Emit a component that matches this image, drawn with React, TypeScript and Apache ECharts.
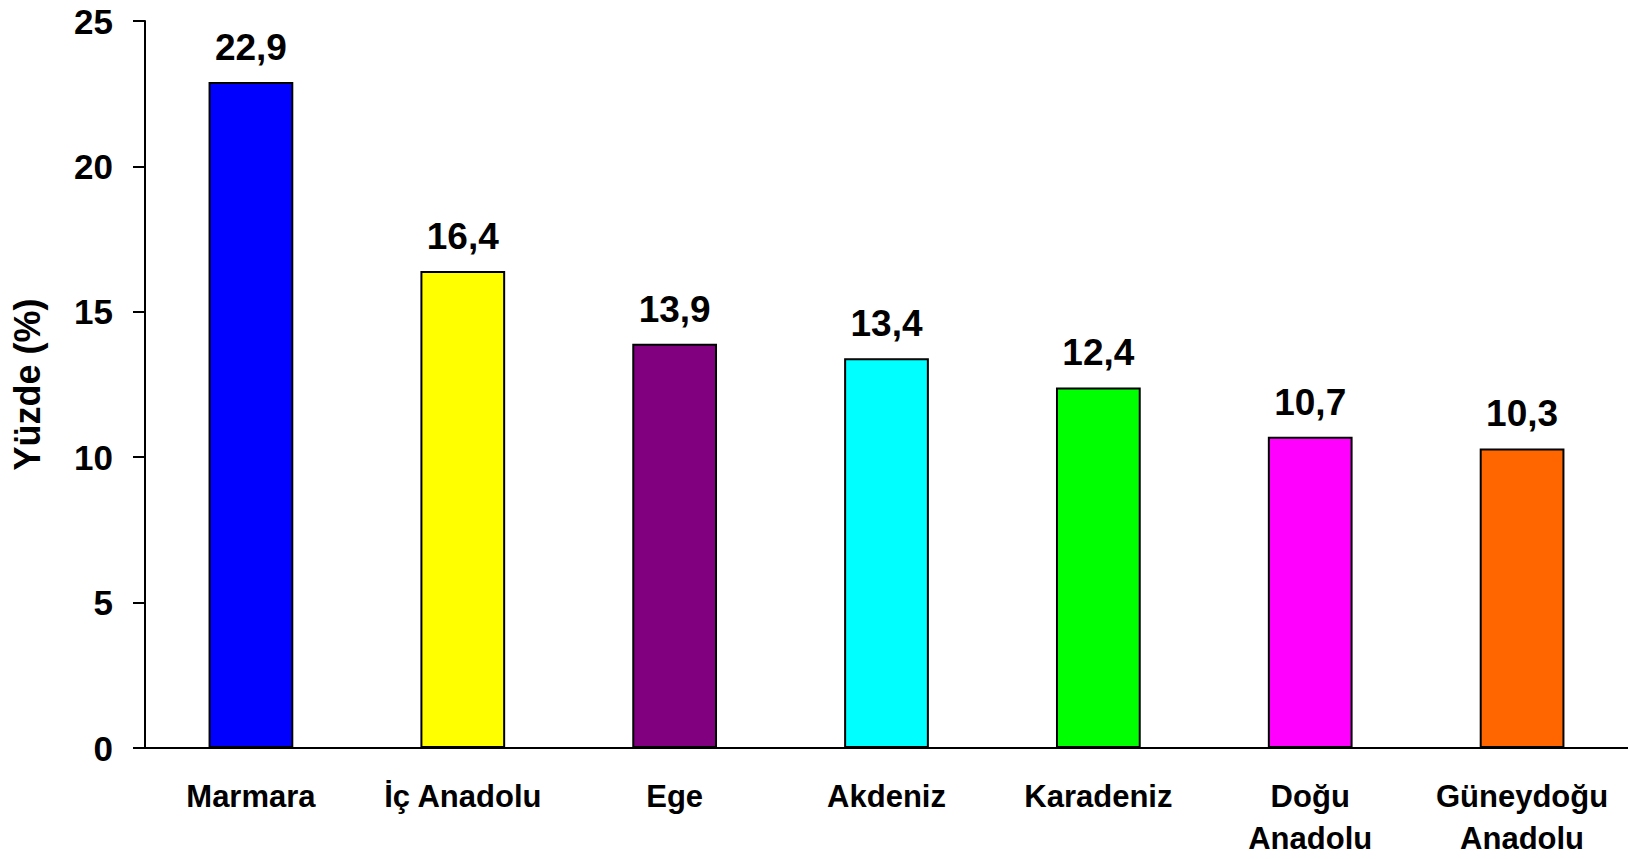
import React, { useEffect, useRef } from "react";
import * as echarts from "echarts";

const categories = ["Marmara", "İç Anadolu", "Ege", "Akdeniz", "Karadeniz", "Doğu\nAnadolu", "Güneydoğu\nAnadolu"];
const values = [22.9, 16.4, 13.9, 13.4, 12.4, 10.7, 10.3];
const colors = ["#0000FF", "#FFFF00", "#800080", "#00FFFF", "#00FF00", "#FF00FF", "#FF6600"];
const yTicks = { min: 0, max: 25, interval: 5 };
const yName = "Yüzde (%)";

const FONT = "'Liberation Sans', Arial, sans-serif";

export default function App() {
  const ref = useRef<HTMLDivElement>(null);
  useEffect(() => {
    if (!ref.current) return;
    const chart = echarts.init(ref.current, null, { renderer: "svg" });
    chart.setOption({
      animation: false,
      backgroundColor: "#ffffff",
      grid: { left: 145, right: 0, top: 21, bottom: 107, containLabel: false },
      xAxis: {
        type: "category",
        data: categories,
        axisLine: { show: true, lineStyle: { color: "#000", width: 2 } },
        axisTick: { show: false },
        axisLabel: {
          interval: 0,
          margin: 27,
          color: "#000",
          fontFamily: FONT,
          fontWeight: "bold",
          fontSize: 31,
          lineHeight: 42,
        },
      },
      yAxis: {
        type: "value",
        min: yTicks.min,
        max: yTicks.max,
        interval: yTicks.interval,
        name: yName,
        nameLocation: "middle",
        nameGap: 100,
        nameTextStyle: { color: "#000", fontFamily: FONT, fontWeight: "bold", fontSize: 36 },
        axisLine: { show: true, lineStyle: { color: "#000", width: 2 } },
        axisTick: { show: true, inside: false, length: 12, lineStyle: { color: "#000", width: 2 } },
        splitLine: { show: false },
        axisLabel: {
          margin: 32,
          color: "#000",
          fontFamily: FONT,
          fontWeight: "bold",
          fontSize: 35,
        },
      },
      series: [
        {
          type: "bar",
          barWidth: "40%",
          data: values.map((v, i) => ({
            value: v,
            itemStyle: { color: colors[i], borderColor: "#000", borderWidth: 2 },
          })),
          label: {
            show: true,
            position: "top",
            distance: 16,
            color: "#000",
            fontFamily: FONT,
            fontWeight: "bold",
            fontSize: 37,
            formatter: (p: any) => String(p.value.toFixed(1)).replace(".", ","),
          },
        },
      ],
    });
    return () => chart.dispose();
  }, []);
  return <div ref={ref} style={{ position: "absolute", left: 0, top: 0, width: 1628, height: 859 }} />;
}
